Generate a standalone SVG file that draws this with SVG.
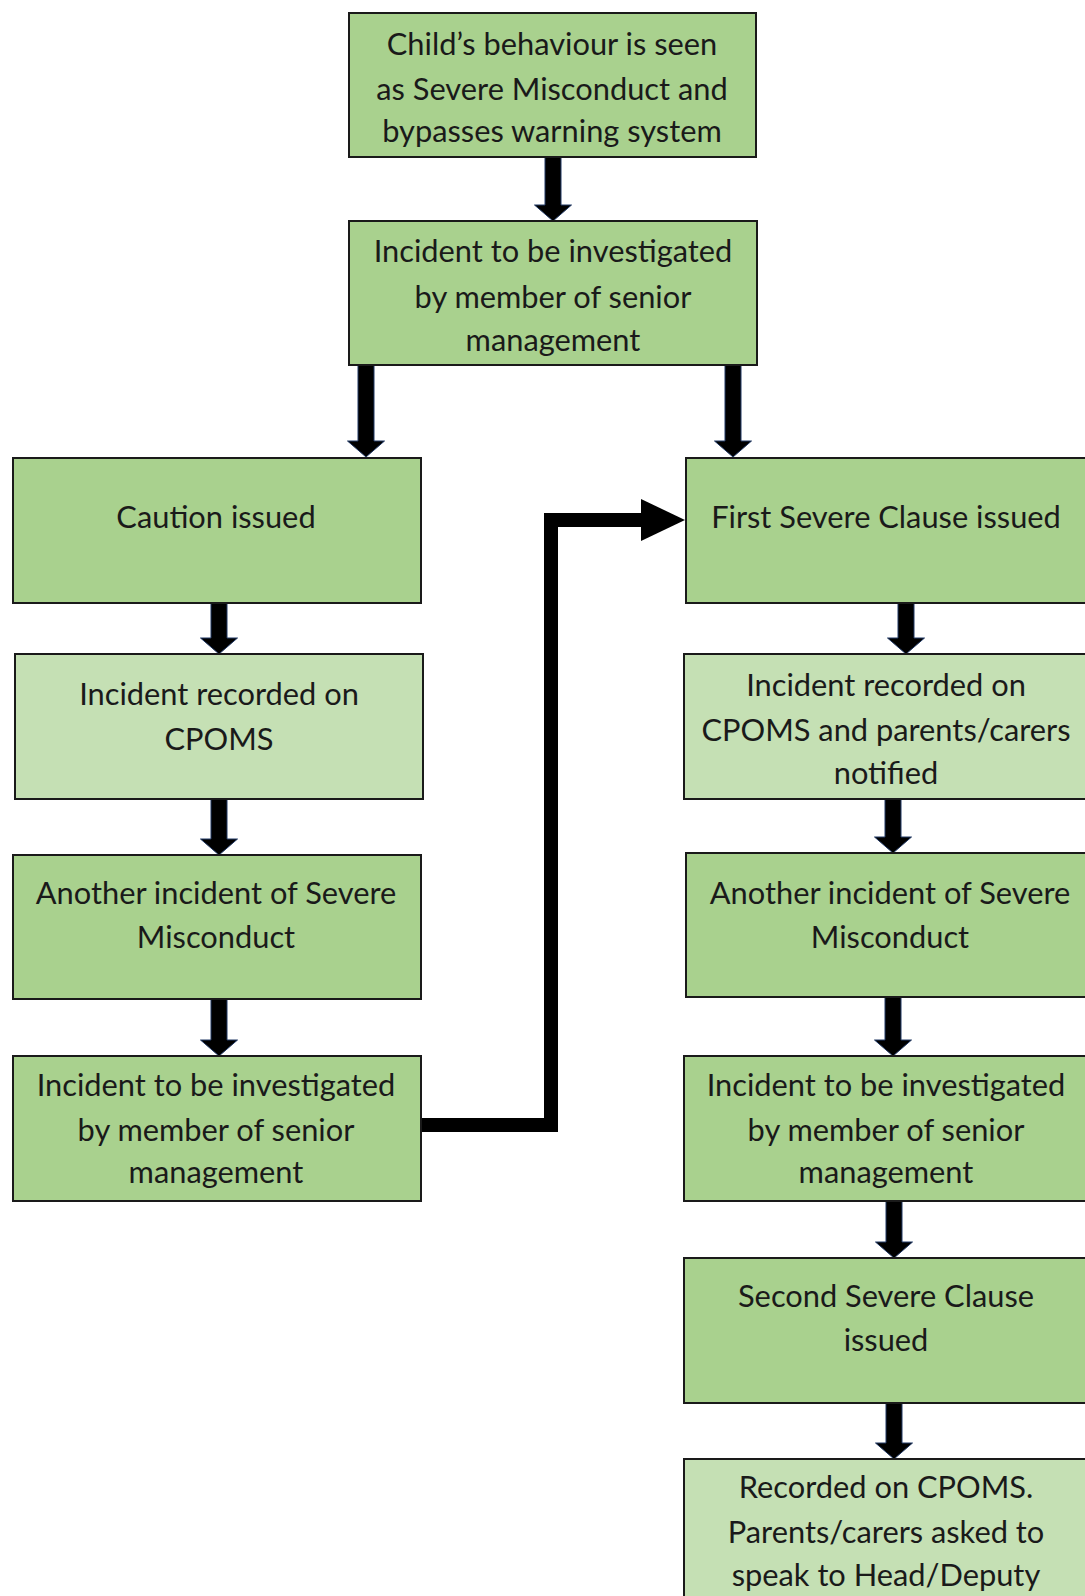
<svg xmlns="http://www.w3.org/2000/svg" width="1085" height="1596" viewBox="0 0 1085 1596">
<style>
.b{fill:#A9D18E;stroke:#1a1a1a;stroke-width:2}
.l{fill:#C5E0B4;stroke:#1a1a1a;stroke-width:2}
text{font-family:Lato,"Open Sans","Liberation Sans",sans-serif;font-size:30.8px;fill:#1a1a1a;text-anchor:middle}
.arr{fill:#000;stroke:#203864;stroke-width:1}
.elbow{fill:none;stroke:#000;stroke-width:14;stroke-linejoin:miter}
</style>
<rect width="1085" height="1596" fill="#fff"/>
<g id="connectors">
<polygon class="arr" points="545,157 561,157 561,205 571.5,205 553,221 534.5,205 545,205"/>
<polygon class="arr" points="358,365 374,365 374,441 384.5,441 366,457 347.5,441 358,441"/>
<polygon class="arr" points="725,365 741,365 741,441 751.5,441 733,457 714.5,441 725,441"/>
<polygon class="arr" points="211,603 227,603 227,638 237.5,638 219,654 200.5,638 211,638"/>
<polygon class="arr" points="211,799 227,799 227,839 237.5,839 219,855 200.5,839 211,839"/>
<polygon class="arr" points="211,999 227,999 227,1040 237.5,1040 219,1056 200.5,1040 211,1040"/>
<polygon class="arr" points="898,603 914,603 914,638 924.5,638 906,654 887.5,638 898,638"/>
<polygon class="arr" points="885,799 901,799 901,837 911.5,837 893,853 874.5,837 885,837"/>
<polygon class="arr" points="885,997 901,997 901,1040 911.5,1040 893,1056 874.5,1040 885,1040"/>
<polygon class="arr" points="886,1201 902,1201 902,1242 912.5,1242 894,1258 875.5,1242 886,1242"/>
<polygon class="arr" points="886,1403 902,1403 902,1443 912.5,1443 894,1459 875.5,1443 886,1443"/>
<polyline class="elbow" points="420,1125 551,1125 551,520 643,520"/>
<polygon fill="#000" points="641,499 685,520 641,541"/>
</g>
<g id="n1"><rect class="b" x="349" y="13" width="407" height="144"/>
<text x="552" y="55">Child’s behaviour is seen</text><text x="552" y="100">as Severe Misconduct and</text><text x="552" y="142">bypasses warning system</text></g>
<g id="n2"><rect class="b" x="349" y="221" width="408" height="144"/>
<text x="553" y="262">Incident to be investigated</text><text x="553" y="308">by member of senior</text><text x="553" y="351">management</text></g>
<g id="n3"><rect class="b" x="13" y="458" width="408" height="145"/>
<text x="216" y="528">Caution issued</text></g>
<g id="n4"><rect class="l" x="15" y="654" width="408" height="145"/>
<text x="219" y="705">Incident recorded on</text><text x="219" y="750">CPOMS</text></g>
<g id="n5"><rect class="b" x="13" y="855" width="408" height="144"/>
<text x="216" y="904">Another incident of Severe</text><text x="216" y="948">Misconduct</text></g>
<g id="n6"><rect class="b" x="13" y="1056" width="408" height="145"/>
<text x="216" y="1096">Incident to be investigated</text><text x="216" y="1141">by member of senior</text><text x="216" y="1183">management</text></g>
<g id="n7"><rect class="b" x="686" y="458" width="404" height="145"/>
<text x="886" y="528">First Severe Clause issued</text></g>
<g id="n8"><rect class="l" x="684" y="654" width="406" height="145"/>
<text x="886" y="696">Incident recorded on</text><text x="886" y="741">CPOMS and parents/carers</text><text x="886" y="784">notified</text></g>
<g id="n9"><rect class="b" x="686" y="853" width="404" height="144"/>
<text x="890" y="904">Another incident of Severe</text><text x="890" y="948">Misconduct</text></g>
<g id="n10"><rect class="b" x="684" y="1056" width="406" height="145"/>
<text x="886" y="1096">Incident to be investigated</text><text x="886" y="1141">by member of senior</text><text x="886" y="1183">management</text></g>
<g id="n11"><rect class="b" x="684" y="1258" width="406" height="145"/>
<text x="886" y="1307">Second Severe Clause</text><text x="886" y="1351">issued</text></g>
<g id="n12"><rect class="l" x="684" y="1459" width="406" height="150"/>
<text x="886" y="1498">Recorded on CPOMS.</text><text x="886" y="1543">Parents/carers asked to</text><text x="886" y="1586">speak to Head/Deputy</text></g>
</svg>
